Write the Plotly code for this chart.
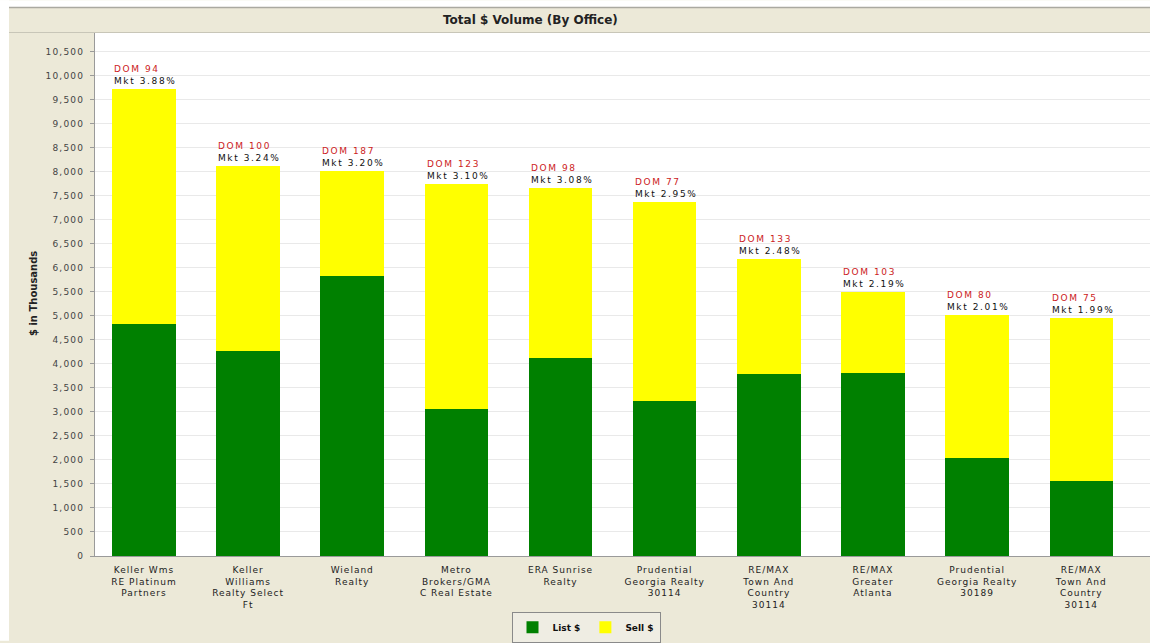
import plotly.graph_objects as go

# ---------------- data ----------------
offices = [
    "Keller Wms<br>RE Platinum<br>Partners",
    "Keller<br>Williams<br>Realty Select<br>Ft",
    "Wieland<br>Realty",
    "Metro<br>Brokers/GMA<br>C Real Estate",
    "ERA Sunrise<br>Realty",
    "Prudential<br>Georgia Realty<br>30114",
    "RE/MAX<br>Town And<br>Country<br>30114",
    "RE/MAX<br>Greater<br>Atlanta",
    "Prudential<br>Georgia Realty<br>30189",
    "RE/MAX<br>Town And<br>Country<br>30114",
]
list_vals = [4834, 4260, 5823, 3071, 4129, 3230, 3797, 3817, 2048, 1562]
sell_vals = [4896, 3858, 2192, 4682, 3541, 4141, 2386, 1675, 2979, 3390]
dom = [94, 100, 187, 123, 98, 77, 133, 103, 80, 75]
mkt = ["3.88%", "3.24%", "3.20%", "3.10%", "3.08%", "2.95%", "2.48%", "2.19%", "2.01%", "1.99%"]
y_ticks = list(range(0, 10501, 500))

# ---------------- layout geometry ----------------
W, H = 1150, 643
L, R, T, B = 95, 0, 33, 85
PW, PH = W - L - R, H - T - B
BAR_W = 0.61


def px_x(p):
    return (p - L) / PW


def px_y(p):
    return (H - B - p) / PH


FONT = "DejaVu Sans"
BEIGE = "#ECE9D8"


def spaced(s, ls):
    return f"<span style='letter-spacing:{ls}px'>{s}</span>"


x = list(range(len(offices)))

fig = go.Figure()
fig.add_bar(x=x, y=list_vals, name="List $", marker_color="#008000",
            marker_line_width=0, width=BAR_W)
fig.add_bar(x=x, y=sell_vals, name="Sell $", marker_color="#FFFF00",
            marker_line_width=0, width=BAR_W)

annotations = []
for i in x:
    total = list_vals[i] + sell_vals[i]
    annotations.append(dict(
        x=i - BAR_W / 2, y=total, xref="x", yref="y",
        xanchor="left", yanchor="bottom", yshift=1, align="left",
        showarrow=False,
        text=(f"<span style='color:#cc2222;letter-spacing:1.6px'>DOM {dom[i]}</span><br>"
              f"<span style='letter-spacing:1.6px'>Mkt {mkt[i]}</span>"),
        font=dict(family=FONT, size=9, color="#111111"),
    ))

# title
annotations.append(dict(
    x=px_x(530), y=px_y(20), xref="paper", yref="paper",
    xanchor="center", yanchor="middle", showarrow=False,
    text="<b>Total $ Volume (By Office)</b>",
    font=dict(family=FONT, size=12, color="#222222"),
))
# y-axis title
annotations.append(dict(
    x=px_x(33), y=px_y(295), xref="paper", yref="paper",
    xanchor="center", yanchor="middle", showarrow=False, textangle=-90,
    text="<b>$ in Thousands</b>",
    font=dict(family=FONT, size=10, color="#222222"),
))

shapes = [
    dict(type="rect", xref="paper", yref="paper", x0=px_x(0), x1=px_x(W),
         y0=px_y(7), y1=px_y(0), fillcolor="white", line_width=0, layer="above"),
    dict(type="rect", xref="paper", yref="paper", x0=px_x(0), x1=px_x(9),
         y0=px_y(H), y1=px_y(0), fillcolor="white", line_width=0, layer="above"),
    dict(type="line", xref="paper", yref="paper", x0=px_x(9), x1=px_x(W),
         y0=px_y(7.5), y1=px_y(7.5), line=dict(color="#aaa9a0", width=1.5)),
    dict(type="line", xref="paper", yref="paper", x0=px_x(9), x1=px_x(W),
         y0=px_y(32.5), y1=px_y(32.5), line=dict(color="#c8c6b8", width=1)),
]

fig.update_layout(
    width=W, height=H,
    margin=dict(l=L, r=R, t=T, b=B, pad=0),
    paper_bgcolor=BEIGE, plot_bgcolor="white",
    barmode="stack", bargap=0.39,
    showlegend=True,
    legend=dict(orientation="h", x=px_x(586), xanchor="center",
                y=px_y(614), yanchor="top",
                bgcolor="#EFEDE3", bordercolor="#8a8a8a", borderwidth=1,
                font=dict(family=FONT, size=9, color="#111111", weight="bold"),
                itemwidth=30, tracegroupgap=0, traceorder="normal"),
    font=dict(family=FONT, size=10, color="#333333"),
    annotations=annotations,
    shapes=shapes,
    xaxis=dict(
        range=[-0.47, 9.66], tickmode="array", tickvals=x,
        ticktext=[spaced(o, 1.0) for o in offices],
        showgrid=False, zeroline=False, showline=True,
        linecolor="#9a9a9a", linewidth=1, ticks="",
        tickfont=dict(family=FONT, size=9, color="#222222"),
        ticklabelstandoff=5,
        fixedrange=True,
    ),
    yaxis=dict(
        range=[0, 10890], tickmode="array", tickvals=y_ticks,
        ticktext=[spaced(f"{v:,}", 1.2) for v in y_ticks],
        showgrid=True, gridcolor="#e9e9e9", gridwidth=1,
        zeroline=False, showline=True, linecolor="#9a9a9a", linewidth=1,
        ticks="outside", ticklen=4, tickcolor="#9a9a9a",
        tickfont=dict(family=FONT, size=9, color="#444444"),
        ticklabelstandoff=4,
        fixedrange=True,
    ),
)

fig.write_html("out.html")
